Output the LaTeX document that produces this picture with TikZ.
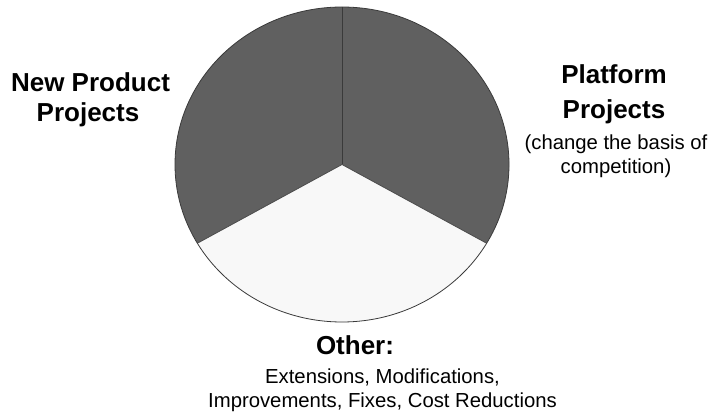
\documentclass[tikz,border=0pt]{standalone}
\usepackage{fontspec}
\setmainfont{Liberation Sans}
\definecolor{slicedark}{HTML}{606060}
\definecolor{slicelight}{HTML}{F8F8F8}
\definecolor{rimcol}{HTML}{3A3A3A}
\begin{document}
\begin{tikzpicture}[x=1pt,y=1pt,
  slice/.style={draw=rimcol,line width=0.8pt,line join=round},
  bigtxt/.style={anchor=base,inner sep=0pt,font=\fontsize{26}{30}\selectfont\bfseries},
  smalltxt/.style={anchor=base,inner sep=0pt,font=\fontsize{20.3}{24}\selectfont}]
\useasboundingbox (0,0) rectangle (708,412);
\coordinate (c) at (342,247.5);
\def\rx{167}\def\ry{157.5}
\fill[slicelight] (c) -- ++({\rx*cos(210)},{\ry*sin(210)}) arc[start angle=210,end angle=330,x radius=\rx,y radius=\ry] -- cycle;
\fill[slicedark] (c) -- ++({\rx*cos(90)},{\ry*sin(90)}) arc[start angle=90,end angle=210,x radius=\rx,y radius=\ry] -- cycle;
\fill[slicedark] (c) -- ++({\rx*cos(-30)},{\ry*sin(-30)}) arc[start angle=-30,end angle=90,x radius=\rx,y radius=\ry] -- cycle;
\draw[slice] (c) ellipse[x radius=\rx,y radius=\ry];
\draw[slice] (c) -- ++(0,\ry);
\draw[slice,draw=slicedark!80!black] (c) -- ++({\rx*cos(210)},{\ry*sin(210)});
\draw[slice,draw=slicedark!80!black] (c) -- ++({\rx*cos(-30)},{\ry*sin(-30)});
% left labels
\node[bigtxt] (np1) at (90.5,320.3) {New Product};
\node[bigtxt] (np2) at (88,290.3) {Projects};
% right labels
\node[bigtxt] (pp1) at (614,328) {Platform};
\node[bigtxt] (pp2) at (614,293) {Projects};
\node[smalltxt] (pp3) at (616,262) {(change the basis of};
\node[smalltxt] (pp4) at (616,238) {competition)};
% bottom labels
\node[bigtxt] (ot1) at (355,58) {Other:};
\node[smalltxt] (ot2) at (382.5,29) {Extensions, Modifications,};
\node[smalltxt] (ot3) at (382.5,5) {Improvements, Fixes, Cost Reductions};
\end{tikzpicture}
\end{document}
